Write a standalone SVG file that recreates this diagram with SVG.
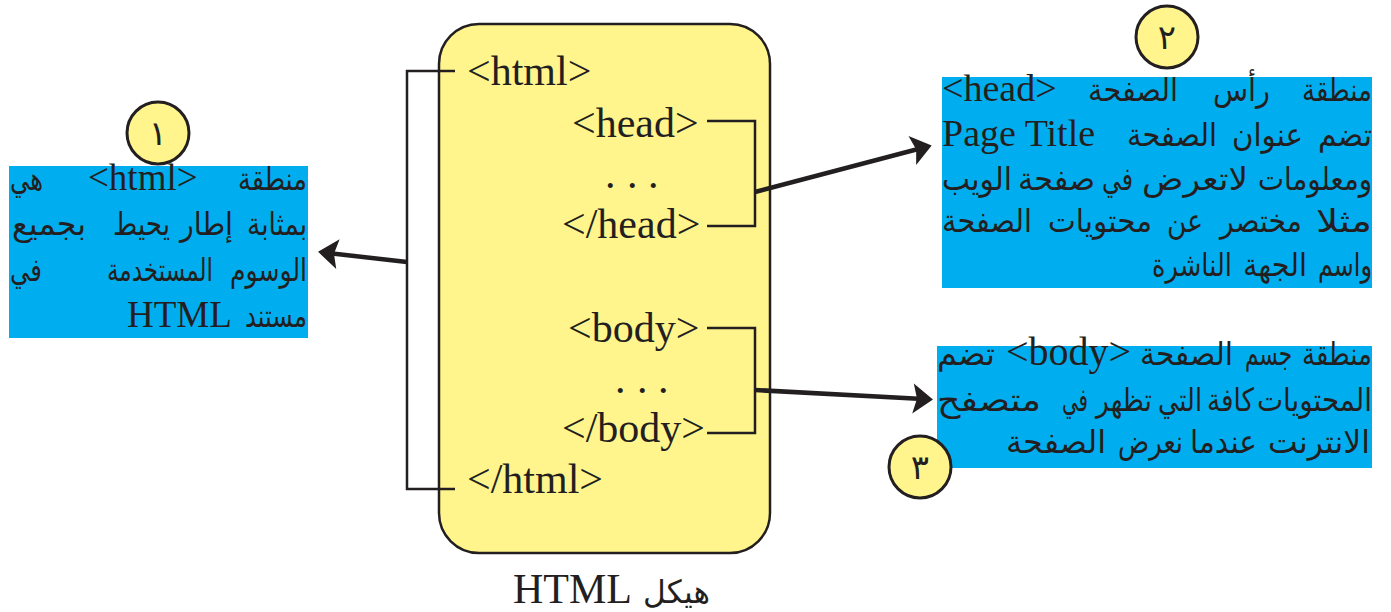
<svg xmlns="http://www.w3.org/2000/svg" width="1391" height="612" viewBox="0 0 1391 612">
<style>
.lat{font-family:"Liberation Serif","Times New Roman",serif;fill:#231f20}
.ar{font-family:"DejaVu Sans",sans-serif;fill:#231f20;font-size:32px}
.c{font-size:42px}
.l{font-size:37px}
.r{font-size:38px}
.blue{fill:#00aeef}
.brk{fill:none;stroke:#231f20;stroke-width:2.5}
.arrow{fill:none;stroke:#231f20;stroke-width:4.5;marker-end:url(#ah)}
.badge{fill:#fff58c;stroke:#231f20;stroke-width:3}
.num{font-family:"DejaVu Sans",sans-serif;font-size:34px;fill:#231f20;text-anchor:middle}
</style>
<defs>
<marker id="ah" markerUnits="userSpaceOnUse" viewBox="-20 -16 22 32" markerWidth="22" markerHeight="32" refX="-8" refY="0" orient="auto">
<path d="M-18,-15 L2,0 L-18,15 L-14,0 Z" fill="#231f20"/>
</marker>
</defs>
<rect width="1391" height="612" fill="#ffffff"/>

<g id="structure">
<rect x="439" y="24" width="331" height="529" rx="40" ry="40" fill="#fff58c" stroke="#231f20" stroke-width="2.5"/>
<text class="lat c" x="467" y="85">&lt;html&gt;</text>
<text class="lat c" x="572" y="137">&lt;head&gt;</text>
<text class="lat c" x="605 627 648" y="188">...</text>
<text class="lat c" x="562" y="238">&lt;/head&gt;</text>
<text class="lat c" x="568" y="342">&lt;body&gt;</text>
<text class="lat c" x="615 637 658" y="393">...</text>
<text class="lat c" x="562" y="442">&lt;/body&gt;</text>
<text class="lat c" x="467" y="493">&lt;/html&gt;</text>
</g>

<g id="caption">
<text class="lat c" x="513" y="603">HTML</text>
<text class="ar" font-size="36" x="643" y="603" textLength="67" lengthAdjust="spacingAndGlyphs">هيكل</text>
</g>

<g id="connectors">
<polyline class="brk" points="455,71 407,71 407,489 455,489"/>
<polyline class="brk" points="707,121 755,121 755,226 707,226"/>
<polyline class="brk" points="707,328 755,328 755,433 707,433"/>
<line class="arrow" x1="407" y1="262" x2="328" y2="253"/>
<line class="arrow" x1="755" y1="192" x2="922" y2="148"/>
<line class="arrow" x1="755" y1="390" x2="923" y2="399"/>
</g>

<g id="note-html">
<rect class="blue" x="9" y="166" width="299" height="172"/>
<text class="ar" x="238" y="190" textLength="69" lengthAdjust="spacingAndGlyphs">منطقة</text>
<text class="lat l" x="88" y="190">&lt;html&gt;</text>
<text class="ar" x="10" y="190" textLength="33" lengthAdjust="spacingAndGlyphs">هي</text>
<text class="ar" x="247" y="235" textLength="60" lengthAdjust="spacingAndGlyphs">بمثابة</text>
<text class="ar" x="180" y="235" textLength="53" lengthAdjust="spacingAndGlyphs">إطار</text>
<text class="ar" x="113" y="235" textLength="57" lengthAdjust="spacingAndGlyphs">يحيط</text>
<text class="ar" x="12" y="235" textLength="74" lengthAdjust="spacingAndGlyphs">بجميع</text>
<text class="ar" x="230" y="281" textLength="77" lengthAdjust="spacingAndGlyphs">الوسوم</text>
<text class="ar" x="107" y="281" textLength="106" lengthAdjust="spacingAndGlyphs">المستخدمة</text>
<text class="ar" x="10" y="281" textLength="32" lengthAdjust="spacingAndGlyphs">في</text>
<text class="ar" x="245" y="327" textLength="62" lengthAdjust="spacingAndGlyphs">مستند</text>
<text class="lat l" x="127" y="327">HTML</text>
<circle class="badge" cx="158" cy="133" r="31"/>
<text class="num" x="158" y="145">١</text>
</g>

<g id="note-head">
<rect class="blue" x="942" y="77" width="430" height="211"/>
<text class="ar" x="1302" y="101" textLength="70" lengthAdjust="spacingAndGlyphs">منطقة</text>
<text class="ar" x="1213" y="101" textLength="57" lengthAdjust="spacingAndGlyphs">رأس</text>
<text class="ar" x="1088" y="101" textLength="90" lengthAdjust="spacingAndGlyphs">الصفحة</text>
<text class="lat r" x="942" y="101">&lt;head&gt;</text>
<text class="ar" x="1318" y="146" textLength="54" lengthAdjust="spacingAndGlyphs">تضم</text>
<text class="ar" x="1232" y="146" textLength="71" lengthAdjust="spacingAndGlyphs">عنوان</text>
<text class="ar" x="1127" y="146" textLength="90" lengthAdjust="spacingAndGlyphs">الصفحة</text>
<text class="lat r" x="942" y="146">Page Title</text>
<text class="ar" x="1258" y="190" textLength="114" lengthAdjust="spacingAndGlyphs">ومعلومات</text>
<text class="ar" x="1142" y="190" textLength="106" lengthAdjust="spacingAndGlyphs">لاتعرض</text>
<text class="ar" x="1102" y="190" textLength="31" lengthAdjust="spacingAndGlyphs">في</text>
<text class="ar" x="1018" y="190" textLength="77" lengthAdjust="spacingAndGlyphs">صفحة</text>
<text class="ar" x="942" y="190" textLength="70" lengthAdjust="spacingAndGlyphs">الويب</text>
<text class="ar" x="1316" y="232" textLength="56" lengthAdjust="spacingAndGlyphs">مثلا</text>
<text class="ar" x="1220" y="232" textLength="82" lengthAdjust="spacingAndGlyphs">مختصر</text>
<text class="ar" x="1167" y="232" textLength="36" lengthAdjust="spacingAndGlyphs">عن</text>
<text class="ar" x="1048" y="232" textLength="104" lengthAdjust="spacingAndGlyphs">محتويات</text>
<text class="ar" x="942" y="232" textLength="90" lengthAdjust="spacingAndGlyphs">الصفحة</text>
<text class="ar" x="1318" y="276" textLength="54" lengthAdjust="spacingAndGlyphs">واسم</text>
<text class="ar" x="1243" y="276" textLength="64" lengthAdjust="spacingAndGlyphs">الجهة</text>
<text class="ar" x="1152" y="276" textLength="80" lengthAdjust="spacingAndGlyphs">الناشرة</text>
<circle class="badge" cx="1167" cy="37" r="31"/>
<text class="num" x="1167" y="49">٢</text>
</g>

<g id="note-body">
<rect class="blue" x="937" y="346" width="435" height="122"/>
<text class="ar" x="1302" y="365" textLength="70" lengthAdjust="spacingAndGlyphs">منطقة</text>
<text class="ar" x="1245" y="365" textLength="47" lengthAdjust="spacingAndGlyphs">جسم</text>
<text class="ar" x="1140" y="365" textLength="93" lengthAdjust="spacingAndGlyphs">الصفحة</text>
<text class="lat" font-size="40" x="1006" y="365">&lt;body&gt;</text>
<text class="ar" x="937" y="365" textLength="58" lengthAdjust="spacingAndGlyphs">تضم</text>
<text class="ar" x="1257" y="411" textLength="115" lengthAdjust="spacingAndGlyphs">المحتويات</text>
<text class="ar" x="1207" y="411" textLength="47" lengthAdjust="spacingAndGlyphs">كافة</text>
<text class="ar" x="1158" y="411" textLength="44" lengthAdjust="spacingAndGlyphs">التي</text>
<text class="ar" x="1096" y="411" textLength="56" lengthAdjust="spacingAndGlyphs">تظهر</text>
<text class="ar" x="1062" y="411" textLength="26" lengthAdjust="spacingAndGlyphs">في</text>
<text class="ar" x="937" y="411" textLength="104" lengthAdjust="spacingAndGlyphs">متصفح</text>
<text class="ar" x="1268" y="453" textLength="102" lengthAdjust="spacingAndGlyphs">الانترنت</text>
<text class="ar" x="1190" y="453" textLength="67" lengthAdjust="spacingAndGlyphs">عندما</text>
<text class="ar" x="1118" y="453" textLength="65" lengthAdjust="spacingAndGlyphs">نعرض</text>
<text class="ar" x="1006" y="453" textLength="100" lengthAdjust="spacingAndGlyphs">الصفحة</text>
<circle class="badge" cx="920" cy="467" r="31"/>
<text class="num" x="920" y="479">٣</text>
</g>
</svg>
